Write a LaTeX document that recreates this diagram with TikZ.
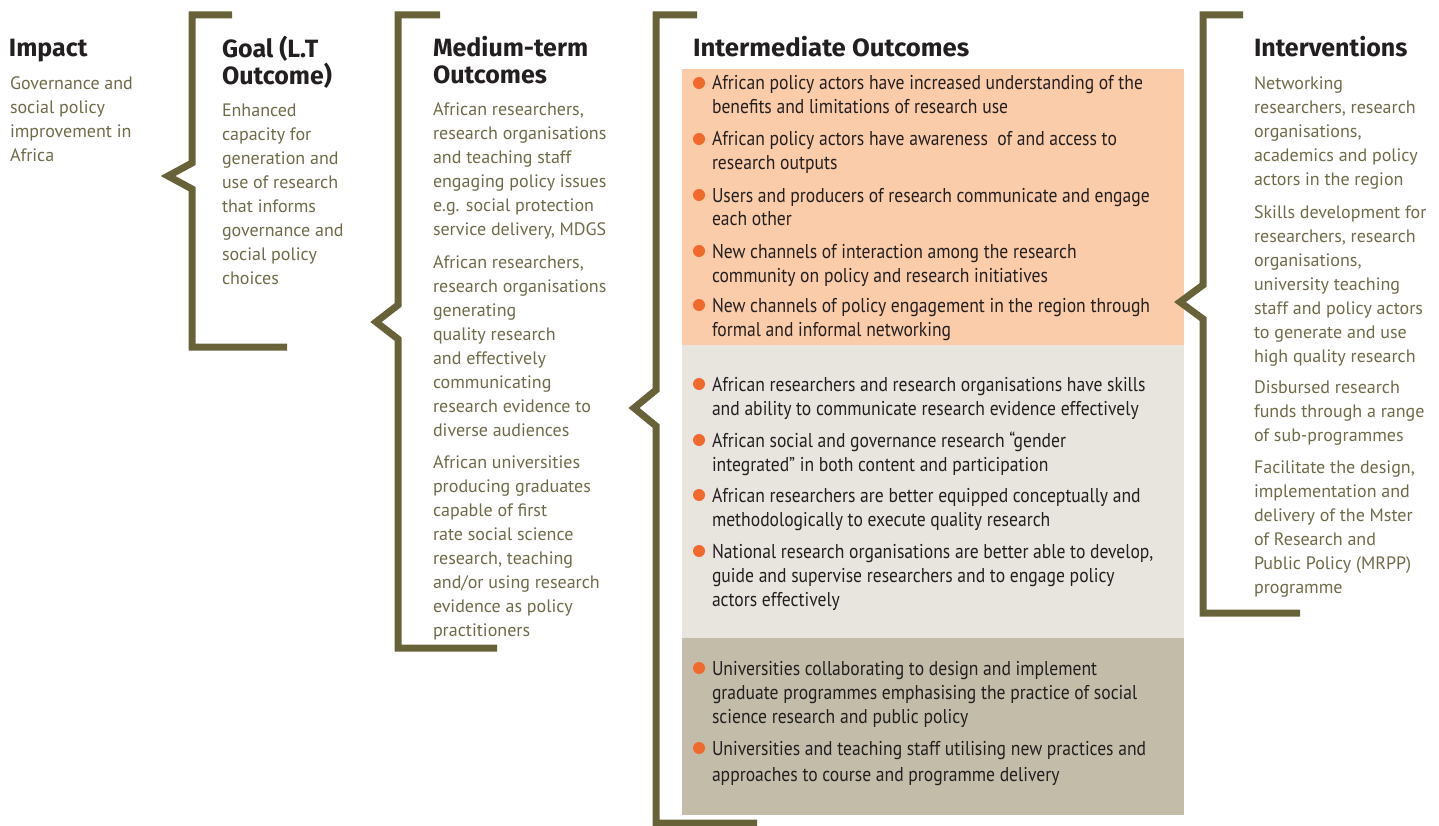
\documentclass[tikz,border=0pt]{standalone}
\usepackage{fontspec}
\setmainfont{PT Sans}
\newfontfamily\headfont{Fira Sans}
\newfontfamily\condhead{Fira Sans}[FakeStretch=1.03]
\newfontfamily\condfont{PT Sans}[FakeStretch=0.88]
\definecolor{brk}{RGB}{104,98,56}
\definecolor{headc}{RGB}{35,31,32}
\definecolor{bodyc}{RGB}{110,106,72}
\definecolor{orangebg}{RGB}{251,204,170}
\definecolor{lightbg}{RGB}{232,229,222}
\definecolor{darkbg}{RGB}{194,188,169}
\definecolor{bul}{RGB}{242,106,43}
\newcommand\fl{\rule{0pt}{15pt}}
\newcommand\hl{\rule{0pt}{21pt}}
\tikzset{
  brk/.style={draw=brk, line width=7pt, line join=miter, miter limit=10},
  head/.style={anchor=north west, yshift=21pt, inner sep=0pt, outer sep=0pt, font=\headfont\bfseries\fontsize{25}{27}\selectfont, text=headc, align=left},
  ihead/.style={anchor=north west, yshift=21pt, inner sep=0pt, outer sep=0pt, font=\condhead\bfseries\fontsize{25}{27}\selectfont, text=headc, align=left},
  body/.style={anchor=north west, yshift=15pt, inner sep=0pt, outer sep=0pt, font=\fontsize{18}{24}\selectfont, text=bodyc, align=left},
  item/.style={anchor=north west, yshift=15pt, inner sep=0pt, outer sep=0pt, font=\condfont\fontsize{20}{24}\selectfont, text=headc, align=left},
  dot/.style={circle, fill=bul, inner sep=0pt, minimum size=12pt},
}
\begin{document}
\begin{tikzpicture}[x=1pt,y=-1pt]
\useasboundingbox (0,0) rectangle (1439,826);
% coloured panels
\fill[orangebg] (682,69) rectangle (1184,345);
\fill[lightbg] (682,345) rectangle (1184,638);
\fill[darkbg] (682,638) rectangle (1184,815);
% brackets
\draw[brk] (232,15) -- (192,15) -- (192,163) -- (168,176) -- (192,189) -- (192,347) -- (287,347);
\draw[brk] (440,15) -- (398,15) -- (398,305) -- (376,322) -- (398,339) -- (398,648) -- (497,648);
\draw[brk] (697,15) -- (656,15) -- (656,390) -- (634,408) -- (656,426) -- (656,823) -- (757,823);
\draw[brk] (1243,15) -- (1203,15) -- (1203,285) -- (1180,302) -- (1203,319) -- (1203,613) -- (1300,613);
% Impact
\node[head] (impH) at (9,57) {\hl Impact};
\node[body] (impB) at (10,90) {\fl Governance and\\social policy\\improvement in\\Africa};
% Goal
\node[head] (goalH) at (222,57) {\hl Goal (L.T\\Outcome)};
\node[body] (goalB) at (222,116) {\fl Enhanced\\capacity for\\generation and\\use of research\\that informs\\governance and\\social policy\\choices};
% Medium-term
\node[head] (medH) at (433,57) {\hl Medium-term\\Outcomes};
\node[body] (med1) at (433,116) {\fl African researchers,\\research organisations\\and teaching staff\\engaging policy issues\\e.g. social protection\\service delivery, MDGS};
\node[body] (med2) at (433,268) {\fl African researchers,\\research organisations\\generating\\quality research\\and effectively\\communicating\\research evidence to\\diverse audiences};
\node[body] (med3) at (433,468) {\fl African universities\\producing graduates\\capable of first\\rate social science\\research, teaching\\and/or using research\\evidence as policy\\practitioners};
% Intermediate
\node[ihead] (intH) at (693,57) {\hl Intermediate Outcomes};
\foreach \n/\y/\t in {
  1/90/{African policy actors have increased understanding of the\\benefits and limitations of research use},
  2/146/{African policy actors have awareness\ \ of and access to\\research outputs},
  3/202/{Users and producers of research communicate and engage\\each other},
  4/258/{New channels of interaction among the research\\community on policy and research initiatives},
  5/312/{New channels of policy engagement in the region through\\formal and informal networking},
  6/391/{African researchers and research organisations have skills\\and ability to communicate research evidence effectively},
  7/447/{African social and governance research “gender\\integrated” in both content and participation},
  8/502/{African researchers are better equipped conceptually and\\methodologically to execute quality research},
  9/558/{National research organisations are better able to develop,\\guide and supervise researchers and to engage policy\\actors effectively},
  10/675/{Universities collaborating to design and implement\\graduate programmes emphasising the practice of social\\science research and public policy},
  11/755/{Universities and teaching staff utilising new practices and\\[2pt]approaches to course and programme delivery}}{
  \node[dot] (dot\n) at (699,\y-7) {};
  \node[item] (it\n) at (712,\y) {\fl\t};
}
% Interventions
\node[head] (intvH) at (1254,57) {\hl Interventions};
\node[body] (iv1) at (1254,90) {\fl Networking\\researchers, research\\organisations,\\academics and policy\\actors in the region};
\node[body] (iv2) at (1254,218) {\fl Skills development for\\researchers, research\\organisations,\\university teaching\\staff and policy actors\\to generate and use\\high quality research};
\node[body] (iv3) at (1254,393) {\fl Disbursed research\\funds through a range\\of sub-programmes};
\node[body] (iv4) at (1254,473) {\fl Facilitate the design,\\implementation and\\delivery of the Mster\\of Research and\\Public Policy (MRPP)\\programme};
\end{tikzpicture}
\end{document}
